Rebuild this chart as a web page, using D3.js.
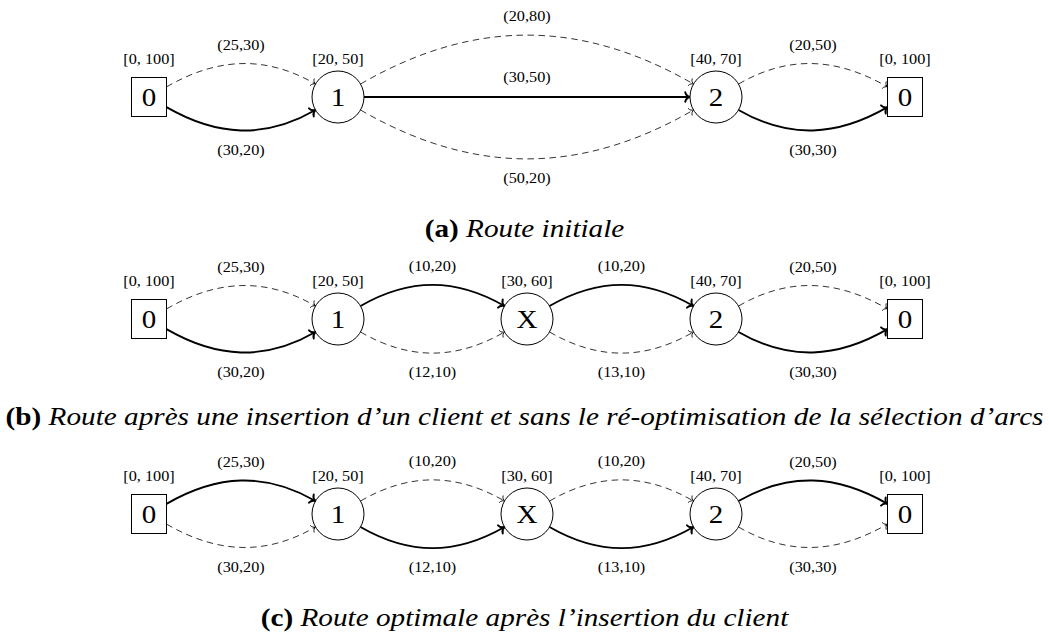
<!DOCTYPE html>
<html>
<head>
<meta charset="utf-8">
<script src="https://cdn.jsdelivr.net/npm/d3@7"></script>
<style>
  html, body { margin: 0; padding: 0; background: #fff; }
  svg { display: block; }
  text { font-family: "Liberation Serif", "Times New Roman", serif; fill: #000; }
</style>
</head>
<body>
<svg id="chart" width="1049" height="632"></svg>
<script>
// ---------------- DATA ----------------
const diagramKeys = ["a", "b", "c"];
const slotKeys = ["dep_start", "c1", "cX", "c2", "dep_end"];
const nodeLabels = { dep_start: "0", c1: "1", cX: "X", c2: "2", dep_end: "0" };
const timeWindows = { dep_start: "[0, 100]", c1: "[20, 50]", cX: "[30, 60]", c2: "[40, 70]", dep_end: "[0, 100]" };
const depotNodes = ["dep_start", "dep_end"];

const routeNodesA = ["dep_start", "c1", "c2", "dep_end"];
const routeNodesB = ["dep_start", "c1", "cX", "c2", "dep_end"];
const routeNodesC = ["dep_start", "c1", "cX", "c2", "dep_end"];

// [from, to, label (temps, coût), bend, selected]
const arcsA = [
  ["dep_start", "c1", "(25,30)", "up", false],
  ["dep_start", "c1", "(30,20)", "down", true],
  ["c1", "c2", "(20,80)", "up", false],
  ["c1", "c2", "(30,50)", "straight", true],
  ["c1", "c2", "(50,20)", "down", false],
  ["c2", "dep_end", "(20,50)", "up", false],
  ["c2", "dep_end", "(30,30)", "down", true]
];
const arcsB = [
  ["dep_start", "c1", "(25,30)", "up", false],
  ["dep_start", "c1", "(30,20)", "down", true],
  ["c1", "cX", "(10,20)", "up", true],
  ["c1", "cX", "(12,10)", "down", false],
  ["cX", "c2", "(10,20)", "up", true],
  ["cX", "c2", "(13,10)", "down", false],
  ["c2", "dep_end", "(20,50)", "up", false],
  ["c2", "dep_end", "(30,30)", "down", true]
];
const arcsC = [
  ["dep_start", "c1", "(25,30)", "up", true],
  ["dep_start", "c1", "(30,20)", "down", false],
  ["c1", "cX", "(10,20)", "up", false],
  ["c1", "cX", "(12,10)", "down", true],
  ["cX", "c2", "(10,20)", "up", false],
  ["cX", "c2", "(13,10)", "down", true],
  ["c2", "dep_end", "(20,50)", "up", true],
  ["c2", "dep_end", "(30,30)", "down", false]
];

const captionTags = ["(a)", "(b)", "(c)"];
const captionTexts = [
  "Route initiale",
  "Route après une insertion d’un client et sans le ré-optimisation de la sélection d’arcs",
  "Route optimale après l’insertion du client"
];

// ---------------- LAYOUT ----------------
const svg = d3.select("#chart");
const W = 1049;
const x = d3.scalePoint().domain(slotKeys).range([149, 905]);
const yNode = d3.scaleOrdinal().domain(diagramKeys).range([97, 319, 514]);
const yCaption = d3.scaleOrdinal().domain(diagramKeys).range([237, 425, 626]);

const R = 26, HW = 17.5, HH = 19.5;
const TX = 1.16; // horizontal text stretch of the reference
const BEND = 30 * Math.PI / 180;

const defs = svg.append("defs");
function marker(id, sw, s) {
  defs.append("marker")
    .attr("id", id)
    .attr("markerUnits", "userSpaceOnUse")
    .attr("viewBox", "-12 -12 24 24")
    .attr("markerWidth", 24).attr("markerHeight", 24)
    .attr("refX", 0).attr("refY", 0)
    .attr("orient", "auto")
    .append("path")
    .attr("d", `M${-5*s},${-5*s} C${-4.4*s},${-2*s} ${-1.8*s},${-0.5*s} 0,0 C${-1.8*s},${0.5*s} ${-4.4*s},${2*s} ${-5*s},${5*s}`)
    .attr("fill", "none").attr("stroke", "#000")
    .attr("stroke-width", sw).attr("stroke-linecap", "round");
}
marker("arrThick", 1.9, 0.95);
marker("arrThin", 0.8, 0.75);

function border(key, cy, ang) {
  const cx = x(key);
  const dx = Math.cos(ang), dy = -Math.sin(ang);
  if (depotNodes.includes(key)) {
    const t = Math.min(Math.abs(dx) > 1e-9 ? HW / Math.abs(dx) : Infinity,
                       Math.abs(dy) > 1e-9 ? HH / Math.abs(dy) : Infinity);
    return [cx + t * dx, cy + t * dy];
  }
  return [cx + R * dx, cy + R * dy];
}

function stext(g, tx, ty, size) {
  return g.append("text")
    .attr("transform", `translate(${tx},${ty}) scale(${TX},1)`)
    .attr("text-anchor", "middle")
    .attr("font-size", size);
}

function drawDiagram(key, nodes, arcs, idx) {
  const cy = yNode(key);
  const g = svg.append("g").attr("class", "diagram-" + key);

  arcs.forEach(([from, to, label, bend, sel]) => {
    let outA, inA;
    if (bend === "up") { outA = BEND; inA = Math.PI - BEND; }
    else if (bend === "down") { outA = -BEND; inA = Math.PI + BEND; }
    else { outA = 0; inA = Math.PI; }
    const S = border(from, cy, outA);
    const E = border(to, cy, inA);
    const d = Math.hypot(E[0] - S[0], E[1] - S[1]);
    const c = 0.3915 * d;
    const C1 = [S[0] + c * Math.cos(outA), S[1] - c * Math.sin(outA)];
    const C2 = [E[0] + c * Math.cos(inA), E[1] - c * Math.sin(inA)];
    const p = d3.path();
    p.moveTo(S[0], S[1]);
    p.bezierCurveTo(C1[0], C1[1], C2[0], C2[1], E[0], E[1]);
    g.append("path")
      .attr("d", p.toString())
      .attr("fill", "none")
      .attr("stroke", "#000")
      .attr("stroke-width", sel ? 1.9 : 0.8)
      .attr("stroke-dasharray", sel ? null : "6.5,4.5")
      .attr("marker-end", sel ? "url(#arrThick)" : "url(#arrThin)");
    const mx = (S[0] + 3 * C1[0] + 3 * C2[0] + E[0]) / 8;
    const my = (S[1] + 3 * C1[1] + 3 * C2[1] + E[1]) / 8;
    const ly = bend === "down" ? my + 19 : (bend === "up" ? my - 19 : my - 20);
    stext(g, mx, ly, 14).attr("dominant-baseline", "central").text(label);
  });

  nodes.forEach(k => {
    const cx = x(k);
    if (depotNodes.includes(k)) {
      g.append("rect")
        .attr("x", cx - HW).attr("y", cy - HH)
        .attr("width", 2 * HW).attr("height", 2 * HH)
        .attr("fill", "#fff").attr("stroke", "#000").attr("stroke-width", 1);
    } else {
      g.append("circle")
        .attr("cx", cx).attr("cy", cy).attr("r", R)
        .attr("fill", "#fff").attr("stroke", "#000").attr("stroke-width", 1);
    }
    stext(g, cx, cy + 8.5, 25).text(nodeLabels[k]);
    stext(g, cx, cy - 38, 14).attr("dominant-baseline", "central").text(timeWindows[k]);
  });

  const t = svg.append("text")
    .attr("transform", `translate(${W / 2},${yCaption(key)}) scale(1.17,1)`)
    .attr("text-anchor", "middle")
    .attr("font-size", 25);
  t.append("tspan").attr("font-weight", "bold").text(captionTags[idx]);
  t.append("tspan").attr("font-style", "italic").text(" " + captionTexts[idx]);
}

drawDiagram("a", routeNodesA, arcsA, 0);
drawDiagram("b", routeNodesB, arcsB, 1);
drawDiagram("c", routeNodesC, arcsC, 2);
</script>
</body>
</html>
